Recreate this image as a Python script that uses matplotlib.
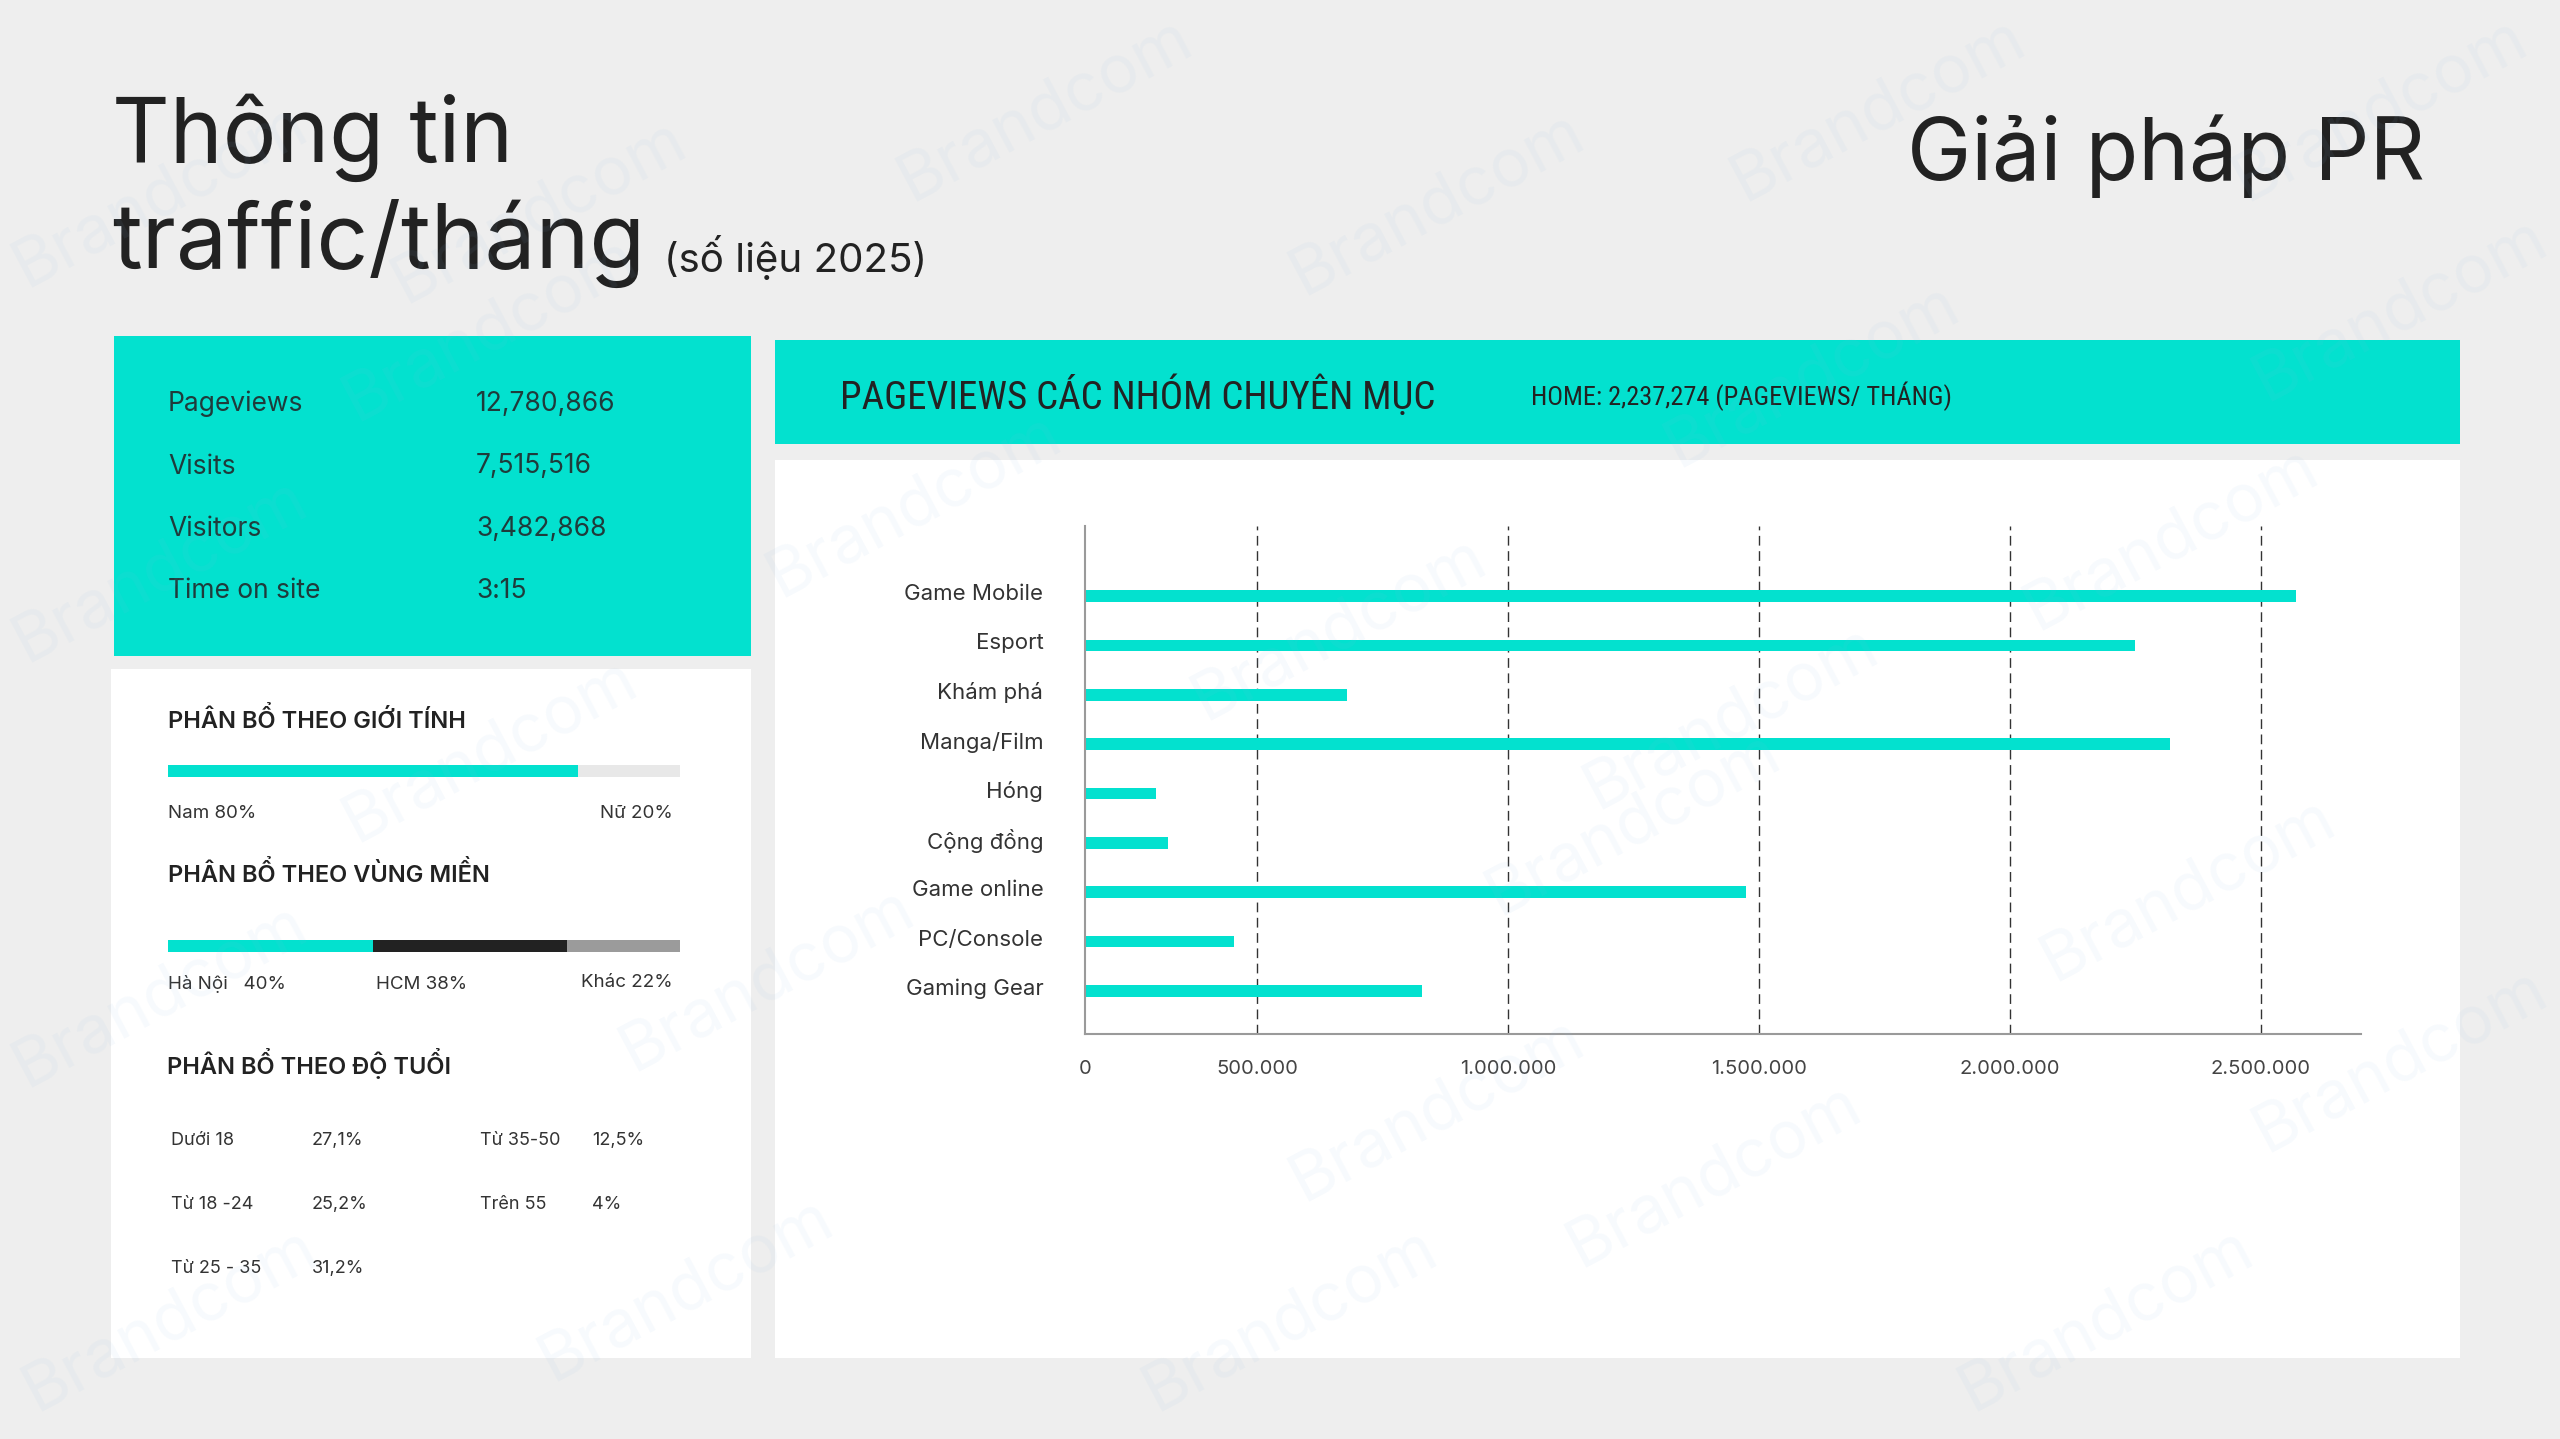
import matplotlib
matplotlib.use('Agg')
import matplotlib.pyplot as plt
from matplotlib.patches import Rectangle
from matplotlib.transforms import ScaledTranslation
from matplotlib import font_manager

W, H = 2560, 1439
TEAL = '#03E1CF'
BG = '#EEEEEE'
INK = '#222222'
SOFT = '#333333'

# summary numbers
summary_labels = ['Pageviews', 'Visits', 'Visitors', 'Time on site']
summary_values = ['12,780,866', '7,515,516', '3,482,868', '3:15']

# audience split
gender_labels = ['Nam', 'Nữ']
gender_share = [80, 20]
region_labels = ['Hà Nội', 'HCM', 'Khác']
region_share = [40, 38, 22]
age_groups = ['Dưới 18', 'Từ 18 -24', 'Từ 25 - 35', 'Từ 35-50', 'Trên 55']
age_share = ['27,1%', '25,2%', '31,2%', '12,5%', '4%']

# pageviews by section
categories = ['Game Mobile', 'Esport', 'Khám phá', 'Manga/Film', 'Hóng',
              'Cộng đồng', 'Game online', 'PC/Console', 'Gaming Gear']
pageviews = [2570000, 2250000, 680000, 2320000, 298000,
             323000, 1474000, 453000, 828000]
home_pageviews = '2,237,274'
x_ticks = [500000, 1000000, 1500000, 2000000, 2500000]
axis_start = 157000   # the picture's value axis starts a little above zero
axis_end = 2700000

fonts = font_manager.fontManager.ttflist
names = {f.name for f in fonts}
BODY = 'Inter' if 'Inter' in names else 'DejaVu Sans'
NARROW = None
for cand in ['Liberation Sans Narrow', 'Roboto Condensed', 'Open Sans Condensed',
             'Noto Sans Condensed', 'DejaVu Sans Condensed']:
    if cand in names:
        NARROW = cand
        break
if NARROW is None:
    for f in fonts:
        if 'ondensed' in str(f.stretch) and 'Mono' not in f.name and 'Serif' not in f.name:
            NARROW = f.name
            break
if NARROW is None:
    NARROW = 'Liberation Sans'
plt.rcParams['font.family'] = [BODY, 'DejaVu Sans']


def px_axes(x0, y0, x1, y1):
    return fig.add_axes([x0 / W, 1 - y1 / H, (x1 - x0) / W, (y1 - y0) / H])


def dotted(n):
    return f'{n:,}'.replace(',', '.')


fig = plt.figure(figsize=(W / 100, H / 100), dpi=100, facecolor=BG)
renderer = fig.canvas.get_renderer()


def fit_width(t, target_px):
    w = t.get_window_extent(renderer).width
    if w > target_px:
        t.set_fontsize(t.get_fontsize() * target_px / w)


# page layer: panels and free text
bg = fig.add_axes([0, 0, 1, 1])
bg.set_xlim(0, W)
bg.set_ylim(H, 0)
bg.axis('off')
for (x0, y0, x1, y1), c in [((114, 336, 751, 656), TEAL),
                            ((111, 669, 751, 1358), 'white'),
                            ((775, 340, 2460, 444), TEAL),
                            ((775, 460, 2460, 1358), 'white')]:
    bg.add_patch(Rectangle((x0, y0), x1 - x0, y1 - y0, color=c, lw=0))

bg.text(112, 162, 'Thông tin', fontsize=64.5, color=INK, va='baseline')
bg.text(112, 268, 'traffic/tháng', fontsize=65.5, color=INK, va='baseline')
bg.text(664, 272, '(số liệu 2025)', fontsize=29, color=INK, va='baseline')
bg.text(2425, 180, 'Giải pháp PR', fontsize=62, color=INK, va='baseline', ha='right')

for i, (lab, val) in enumerate(zip(summary_labels, summary_values)):
    yb = 411 + i * 62.5
    bg.text(168, yb, lab, fontsize=19, color='#1f3b3b', va='baseline')
    bg.text(476, yb, val, fontsize=19, color='#1f3b3b', va='baseline')

bg.text(168, 728, 'PHÂN BỔ THEO GIỚI TÍNH', fontsize=17, color=INK,
        fontweight='semibold', va='baseline')
bg.text(168, 818, f'{gender_labels[0]} {gender_share[0]}%', fontsize=13.5, color=SOFT, va='baseline')
bg.text(673, 818, f'{gender_labels[1]} {gender_share[1]}%', fontsize=13.5, color=SOFT,
        va='baseline', ha='right')

bg.text(168, 882, 'PHÂN BỔ THEO VÙNG MIỀN', fontsize=17, color=INK,
        fontweight='semibold', va='baseline')
region_text = [f'{region_labels[0]}   {region_share[0]}%',
               f'{region_labels[1]} {region_share[1]}%',
               f'{region_labels[2]} {region_share[2]}%']
for x, t, yb in zip([168, 376, 581], region_text, [989, 989, 987]):
    bg.text(x, yb, t, fontsize=13.5, color=SOFT, va='baseline')

bg.text(167, 1074, 'PHÂN BỔ THEO ĐỘ TUỔI', fontsize=17, color=INK,
        fontweight='semibold', va='baseline')
age_rows = [1145, 1209, 1273]
for i, (g, s) in enumerate(zip(age_groups, age_share)):
    col, row = divmod(i, 3)
    xl, xv = (171, 312) if col == 0 else (480, 592)
    bg.text(xl, age_rows[row], g, fontsize=13, color=SOFT, va='baseline')
    bg.text(xv, age_rows[row], s, fontsize=13, color=SOFT, va='baseline')

t1 = bg.text(840, 409, 'PAGEVIEWS CÁC NHÓM CHUYÊN MỤC', fontsize=28, color=INK,
             family=[NARROW, 'DejaVu Sans'], va='baseline')
t2 = bg.text(1531, 405, f'HOME: {home_pageviews} (PAGEVIEWS/ THÁNG)', fontsize=19, color=INK,
             family=[NARROW, 'DejaVu Sans'], va='baseline')
fit_width(t1, 618)
fit_width(t2, 436)


# stacked share bars
def share_bar(box, shares, colors):
    a = px_axes(*box)
    left = 0
    for s, c in zip(shares, colors):
        a.barh(0, s, left=left, height=1, color=c, lw=0)
        left += s
    a.set_xlim(0, 100)
    a.set_ylim(-0.5, 0.5)
    a.axis('off')


share_bar((168, 765, 680, 777), gender_share, [TEAL, '#E8E8E8'])
share_bar((168, 940, 680, 952), region_share, [TEAL, '#222222', '#9B9B9B'])

# main bar chart
ax = px_axes(1085, 526, 2361, 1034)
ax.set_facecolor('none')
y = list(range(len(categories)))
ax.barh(y, pageviews, height=0.235, color=TEAL, zorder=3)
ax.set_xlim(axis_start, axis_end)
ax.set_ylim(len(categories) - 1 + 0.871, -1.418)
ax.set_yticks(y, categories)
ax.set_xticks(x_ticks, [dotted(v) for v in x_ticks])
ax.set_xticks([axis_start], ['0'], minor=True)
ax.tick_params(axis='y', length=0, pad=30, labelsize=16, labelcolor=SOFT)
ax.tick_params(axis='x', which='both', length=0, pad=19, labelsize=14.5, labelcolor='#444444')
for lab in ax.get_yticklabels():
    lab.set_transform(lab.get_transform() + ScaledTranslation(0, 0.04, fig.dpi_scale_trans))
ax.grid(axis='x', which='major', color='#333333', lw=1.0, linestyle=(0, (7, 4)), zorder=1)
ax.grid(axis='y', visible=False)
for side in ['top', 'right']:
    ax.spines[side].set_visible(False)
for side in ['left', 'bottom']:
    ax.spines[side].set_color('#9a9a9a')
    ax.spines[side].set_linewidth(1.5)
    ax.spines[side].set_zorder(4)

# faint watermark
wm = fig.add_axes([0, 0, 1, 1], zorder=10)
wm.set_xlim(0, W)
wm.set_ylim(H, 0)
wm.axis('off')
marks = [(1045, 110), (1437, 204), (1878, 110), (2380, 110), (1812, 376), (2400, 310),
         (539, 212), (160, 196), (490, 330), (914, 506), (490, 751), (160, 571),
         (2171, 539), (1339, 629), (1731, 718), (1633, 824), (2188, 890), (767, 980),
         (160, 996), (1437, 1110), (1714, 1176), (2400, 1061), (686, 1290), (170, 1320),
         (2106, 1320), (1290, 1320)]
for mx, my in marks:
    wm.text(mx, my, 'Brandcom', fontsize=48, color='#8fbde6', alpha=0.07,
            rotation=28, ha='center', va='center')

fig.savefig('out.png', dpi=100, facecolor=BG)
